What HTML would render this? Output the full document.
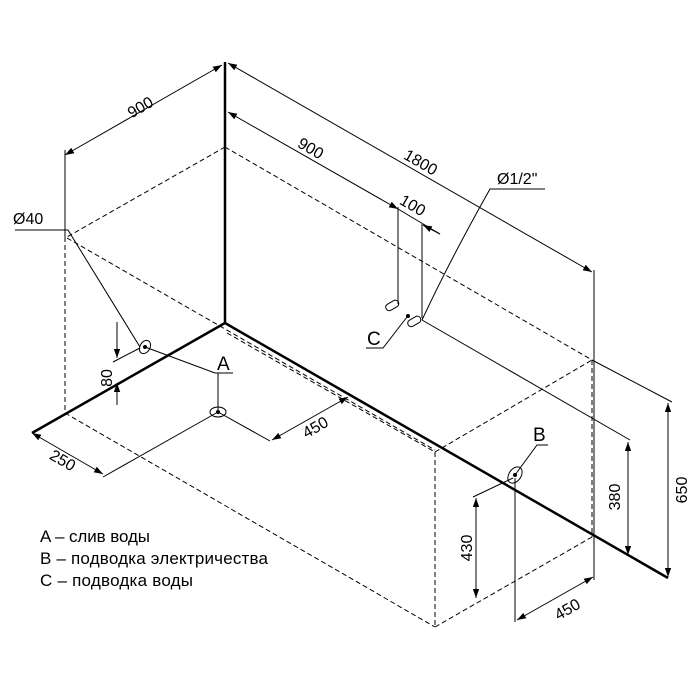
<!DOCTYPE html>
<html><head><meta charset="utf-8"><style>html,body{margin:0;padding:0;background:#fff}svg{display:block}</style></head>
<body>
<svg width="700" height="700" viewBox="0 0 700 700" xmlns="http://www.w3.org/2000/svg" font-family="Liberation Sans, DejaVu Sans, sans-serif">
<defs>
<marker id="a" viewBox="0 0 10 10" refX="10" refY="5" markerWidth="9" markerHeight="9" orient="auto-start-reverse" markerUnits="userSpaceOnUse"><path d="M0,1.5 L10,5 L0,8.5 z" fill="#000"/></marker>
</defs>
<g stroke="#000" fill="none">
<g stroke-width="2.5">
<line x1="225" y1="62" x2="225" y2="323"/>
<line x1="225" y1="323" x2="32" y2="433"/>
<line x1="225" y1="323" x2="668" y2="578"/>
</g>
<g stroke-width="1" stroke-dasharray="5,3">
<line x1="225" y1="147" x2="67" y2="237"/>
<line x1="225" y1="147" x2="592" y2="360"/>
<line x1="65" y1="237" x2="65" y2="413"/>
<line x1="65" y1="413" x2="435" y2="627"/>
<line x1="435" y1="627" x2="592" y2="537"/>
<line x1="435" y1="452" x2="435" y2="627"/>
<line x1="592" y1="360" x2="592" y2="537"/>
<line x1="435" y1="452" x2="592" y2="360"/>
<line x1="227" y1="333" x2="435" y2="452"/>
<line x1="67" y1="238" x2="435" y2="450"/>
</g>
<g stroke-width="1">
<line x1="65" y1="155" x2="222" y2="65" marker-start="url(#a)" marker-end="url(#a)"/>
<line x1="65" y1="150" x2="65" y2="237"/>
<line x1="228" y1="63" x2="592" y2="272" marker-start="url(#a)" marker-end="url(#a)"/>
<line x1="594" y1="270" x2="594" y2="580"/>
<line x1="228" y1="112" x2="398" y2="209" marker-start="url(#a)" marker-end="url(#a)"/>
<line x1="398" y1="209" x2="440" y2="234"/>
<line x1="440" y1="234" x2="423" y2="225" marker-end="url(#a)"/>
<line x1="398" y1="207" x2="398" y2="304"/>
<line x1="422" y1="224" x2="422" y2="318"/>
<path d="M545,189 L490,189 Q450,260 422,320"/>
<rect x="385" y="302" width="14" height="7" rx="3.5" transform="rotate(-30 392 305)"/>
<rect x="407" y="318" width="14" height="7" rx="3.5" transform="rotate(-30 414 321)"/>
<path d="M407,317 L383,348 L366,348"/>
<line x1="422" y1="320" x2="630" y2="440"/>
<line x1="628" y1="442" x2="628" y2="555" marker-start="url(#a)" marker-end="url(#a)"/>
<line x1="592" y1="360" x2="672" y2="402"/>
<line x1="668" y1="403" x2="668" y2="577" marker-start="url(#a)" marker-end="url(#a)"/>
<ellipse cx="515" cy="475" rx="6" ry="9" transform="rotate(35 515 475)"/>
<path d="M515,475 L537,445 L548,445"/>
<line x1="513" y1="478" x2="473" y2="497"/>
<line x1="476" y1="498" x2="476" y2="598" marker-start="url(#a)" marker-end="url(#a)"/>
<line x1="515" y1="478" x2="515" y2="622"/>
<line x1="517" y1="620" x2="593" y2="577" marker-start="url(#a)" marker-end="url(#a)"/>
<path d="M15,230 L68,230 L140,347"/>
<ellipse cx="145" cy="347" rx="5" ry="7" transform="rotate(30 145 347)"/>
<path d="M145,347 L215,373 L233,373"/>
<line x1="218" y1="373" x2="218" y2="410"/>
<ellipse cx="218" cy="412" rx="8" ry="5"/>
<line x1="117" y1="322" x2="117" y2="358" marker-end="url(#a)"/>
<line x1="117" y1="405" x2="117" y2="383" marker-end="url(#a)"/>
<line x1="113" y1="362" x2="140" y2="348"/>
<line x1="218" y1="412" x2="270" y2="441"/>
<line x1="272" y1="440" x2="348" y2="397" marker-start="url(#a)" marker-end="url(#a)"/>
<line x1="32" y1="433" x2="103" y2="474" marker-start="url(#a)" marker-end="url(#a)"/>
<line x1="218" y1="412" x2="103" y2="477"/>
</g>
<g fill="#000" stroke="none">
<circle cx="145" cy="347" r="2"/>
<circle cx="218" cy="412" r="2"/>
<circle cx="515" cy="475" r="2"/>
<circle cx="408" cy="316" r="2"/>
</g>
</g>
<g font-size="16" fill="#000">
<text transform="translate(143,112) rotate(-30)" text-anchor="middle">900</text>
<text transform="translate(308,153) rotate(30)" text-anchor="middle">900</text>
<text transform="translate(418,167) rotate(30)" text-anchor="middle">1800</text>
<text transform="translate(410,210) rotate(30)" text-anchor="middle">100</text>
<text x="497" y="184">Ø1/2"</text>
<text x="13" y="224">Ø40</text>
<text x="367" y="345" font-size="19">C</text>
<text x="533" y="441" font-size="19">B</text>
<text x="217" y="370" font-size="19">A</text>
<text transform="translate(112,378) rotate(-90)" text-anchor="middle">80</text>
<text transform="translate(318,432) rotate(-30)" text-anchor="middle">450</text>
<text transform="translate(60,465) rotate(30)" text-anchor="middle">250</text>
<text transform="translate(620,497) rotate(-90)" text-anchor="middle">380</text>
<text transform="translate(687,490) rotate(-90)" text-anchor="middle">650</text>
<text transform="translate(472,548) rotate(-90)" text-anchor="middle">430</text>
<text transform="translate(570,614) rotate(-30)" text-anchor="middle">450</text>
<text x="40" y="542" font-size="17" textLength="110">A – слив воды</text>
<text x="40" y="564" font-size="17" textLength="228">B – подводка электричества</text>
<text x="40" y="586" font-size="17" textLength="153">C – подводка воды</text>
</g>
</svg>
</body></html>
